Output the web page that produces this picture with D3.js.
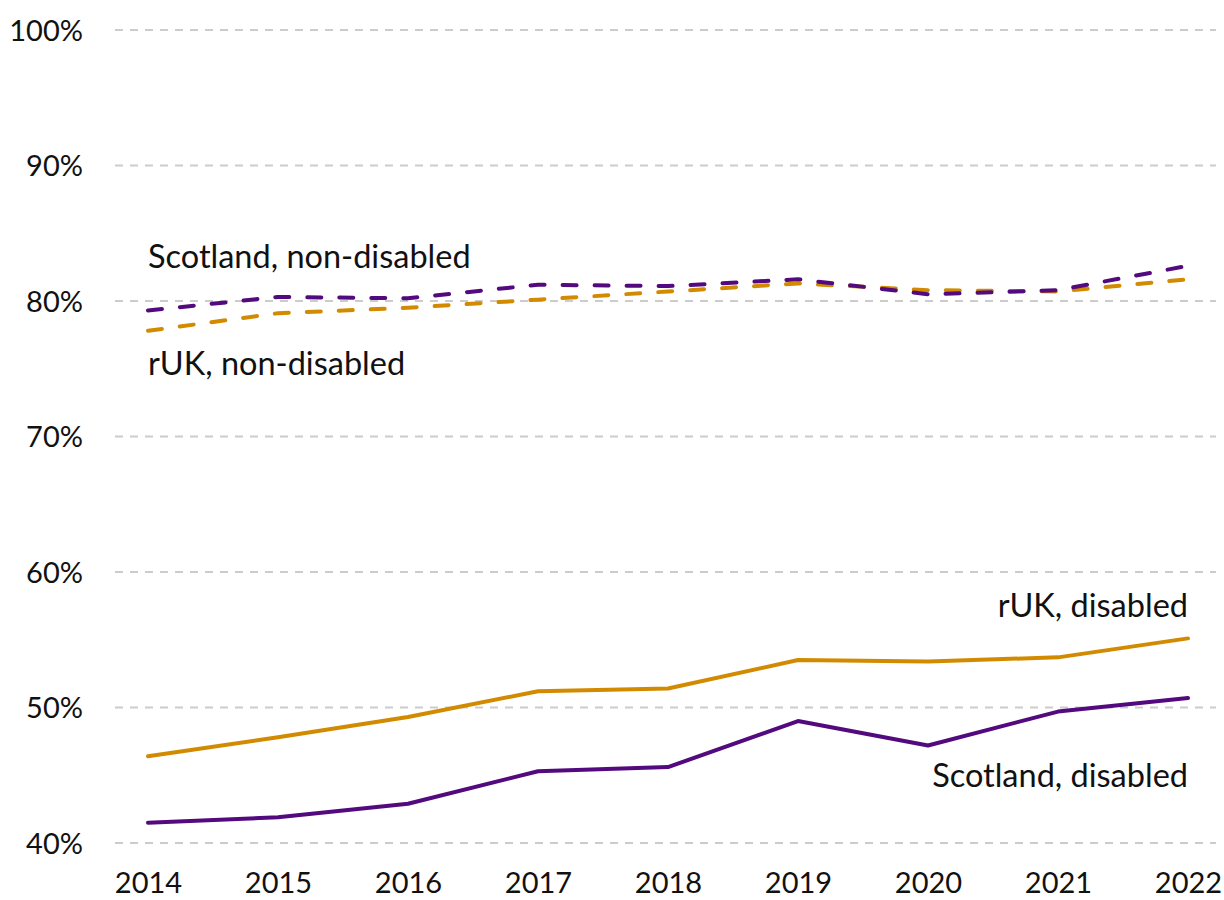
<!DOCTYPE html>
<html>
<head>
<meta charset="utf-8">
<script src="https://cdn.jsdelivr.net/npm/d3@7"></script>
<style>
  body { margin: 0; background: #fff; }
  svg text { font-family: Lato, "Open Sans", sans-serif; fill: #111; }
</style>
</head>
<body>
<svg id="chart" width="1224" height="900"></svg>
<script>
// years on the x axis
const years = [2014, 2015, 2016, 2017, 2018, 2019, 2020, 2021, 2022];

// employment rates, %
const scotNonDisabled = [79.3, 80.3, 80.2, 81.2, 81.1, 81.6, 80.5, 80.8, 82.6];
const rukNonDisabled  = [77.8, 79.1, 79.5, 80.1, 80.7, 81.3, 80.8, 80.7, 81.6];
const rukDisabled     = [46.4, 47.8, 49.3, 51.2, 51.4, 53.5, 53.4, 53.7, 55.1];
const scotDisabled    = [41.5, 41.9, 42.9, 45.3, 45.6, 49.0, 47.2, 49.7, 50.7];

const yTicks = [40, 50, 60, 70, 80, 90, 100];

const PURPLE = '#520a7e';
const GOLD = '#d28b00';

const svg = d3.select('#chart');

const x = d3.scalePoint().domain(years).range([148, 1188]);
const y = d3.scaleLinear().domain([40, 100]).range([843, 30]);

// gridlines
svg.append('g')
  .selectAll('line')
  .data(yTicks)
  .join('line')
  .attr('x1', 115).attr('x2', 1216)
  .attr('y1', d => y(d)).attr('y2', d => y(d))
  .attr('stroke', '#cccccc')
  .attr('stroke-width', 2)
  .attr('stroke-dasharray', '8,7');

// y axis labels
const yAxis = svg.append('g')
  .attr('transform', 'translate(83,0)')
  .call(d3.axisLeft(y).tickValues(yTicks).tickFormat(d => d + '%').tickSize(0).tickPadding(0));
yAxis.select('.domain').remove();
yAxis.selectAll('text')
  .attr('font-size', 29)
  .attr('dy', '0.36em')
  .style('font-family', 'Lato, sans-serif')
  .attr('fill', '#111');

// x axis labels
const xAxis = svg.append('g')
  .attr('transform', 'translate(0,872)')
  .call(d3.axisBottom(x).tickSize(0).tickPadding(0));
xAxis.select('.domain').remove();
xAxis.selectAll('text')
  .attr('font-size', 29)
  .attr('dy', '0.72em')
  .style('font-family', 'Lato, sans-serif')
  .attr('fill', '#111');

const line = d3.line()
  .x((d, i) => x(years[i]))
  .y(d => y(d));

const series = [
  { values: rukNonDisabled, color: GOLD, dash: '14,18' },
  { values: scotNonDisabled, color: PURPLE, dash: '14,18' },
  { values: rukDisabled, color: GOLD, dash: null },
  { values: scotDisabled, color: PURPLE, dash: null }
];

svg.append('g')
  .selectAll('path')
  .data(series)
  .join('path')
  .attr('d', d => line(d.values))
  .attr('fill', 'none')
  .attr('stroke', d => d.color)
  .attr('stroke-width', 4)
  .attr('stroke-linecap', 'round')
  .attr('stroke-linejoin', 'round')
  .attr('stroke-dasharray', d => d.dash);

// direct labels
const labels = [
  { text: 'Scotland, non-disabled', x: x(2014), y: 268, anchor: 'start' },
  { text: 'rUK, non-disabled', x: x(2014), y: 375, anchor: 'start' },
  { text: 'rUK, disabled', x: x(2022), y: 617, anchor: 'end' },
  { text: 'Scotland, disabled', x: x(2022), y: 787, anchor: 'end' }
];

svg.append('g')
  .selectAll('text')
  .data(labels)
  .join('text')
  .attr('x', d => d.x)
  .attr('y', d => d.y)
  .attr('text-anchor', d => d.anchor)
  .attr('font-size', 32.5)
  .text(d => d.text);
</script>
</body>
</html>
